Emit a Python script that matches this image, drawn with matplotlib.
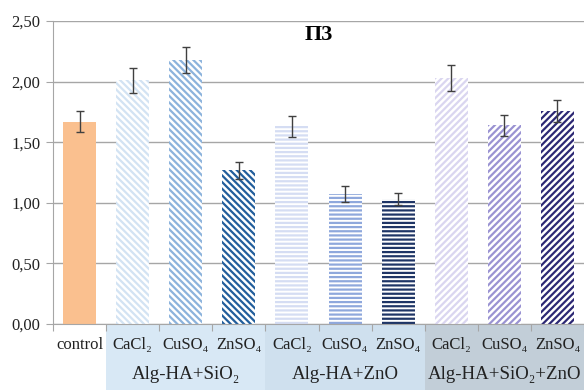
import matplotlib
matplotlib.use("Agg")
import matplotlib.pyplot as plt
from matplotlib.patches import Rectangle
import matplotlib.transforms as mtransforms

categories = ["control", "CaCl₂", "CuSO₄", "ZnSO₄", "CaCl₂", "CuSO₄", "ZnSO₄", "CaCl₂", "CuSO₄", "ZnSO₄"]
values = [1.67, 2.01, 2.18, 1.27, 1.63, 1.07, 1.03, 2.03, 1.64, 1.76]
errors = [0.085, 0.10, 0.105, 0.07, 0.085, 0.065, 0.05, 0.105, 0.085, 0.09]
groups = ["Alg-HA+SiO₂", "Alg-HA+ZnO", "Alg-HA+SiO₂+ZnO"]
group_spans = [(1, 3), (4, 6), (7, 9)]
yticks = [0.0, 0.5, 1.0, 1.5, 2.0, 2.5]
title = "П3"

colors = ["#FAC08F", "#D3E3F3", "#8CB3DC", "#225E9C", "#D5DDF3", "#8FA8DC", "#1F3566",
          "#DAD6F0", "#9A93D2", "#2C2874"]
hatches = [None, "\\\\\\\\\\", "\\\\\\\\\\", "\\\\\\\\\\", "----", "----", "----",
           "/////", "/////", "/////"]
group_colors = ["#D8E8F5", "#CFE0EE", "#C2CED8"]

plt.rcParams['hatch.linewidth'] = 1.6
serif = ['Liberation Serif', 'DejaVu Serif']

fig = plt.figure(figsize=(5.84, 3.9), dpi=100)
ax = fig.add_axes([53/584, 66/390, 531/584, 303/390])

x = list(range(len(values)))
for i, (v, c, h) in enumerate(zip(values, colors, hatches)):
    if h is None:
        ax.bar(i, v, width=0.62, color=c, linewidth=0, zorder=2)
    else:
        ax.bar(i, v, width=0.62, facecolor="white", edgecolor=c, hatch=h, linewidth=0, zorder=2)
ax.errorbar(x, values, yerr=errors, fmt="none", ecolor="#404040", elinewidth=1.0,
            capsize=3, capthick=1.0, zorder=3)

ax.set_xlim(-0.5, 9.5)
ax.set_ylim(0, 2.5)
ax.set_yticks(yticks)
ax.set_yticklabels([f"{t:.2f}".replace(".", ",") for t in yticks], family=serif,
                   fontsize=12, color="#222222")
ax.yaxis.grid(True, color="#A6A6A6", linewidth=1.0, zorder=0)
ax.set_axisbelow(True)
for s in ["top", "right"]:
    ax.spines[s].set_visible(False)
for s in ["left", "bottom"]:
    ax.spines[s].set_color("#A6A6A6")
ax.tick_params(axis="y", length=5, color="#A6A6A6", pad=4)

ax.set_xticks([i - 0.5 for i in range(len(values) + 1)])
ax.set_xticklabels([])
ax.tick_params(axis="x", length=5, color="#A6A6A6")

trans = mtransforms.blended_transform_factory(ax.transData, ax.transAxes)
for (a, b), gc, gname in zip(group_spans, group_colors, groups):
    ax.add_patch(Rectangle((a - 0.5, -0.25), b - a + 1, 0.25, transform=trans,
                           facecolor=gc, edgecolor="none", clip_on=False, zorder=0))
    ax.text((a + b) / 2, -0.166, gname, transform=trans, ha="center", va="center",
            family=serif, fontsize=13.6, color="#222222")
for i, c in enumerate(categories):
    ax.text(i, -0.07, c, transform=trans, ha="center", va="center",
            family=serif, fontsize=12, color="#222222")

ax.text(0.5, 0.955, title, transform=ax.transAxes, ha="center", va="center",
        family=serif, fontsize=16, fontweight="bold")

fig.savefig("out.png", dpi=100)
